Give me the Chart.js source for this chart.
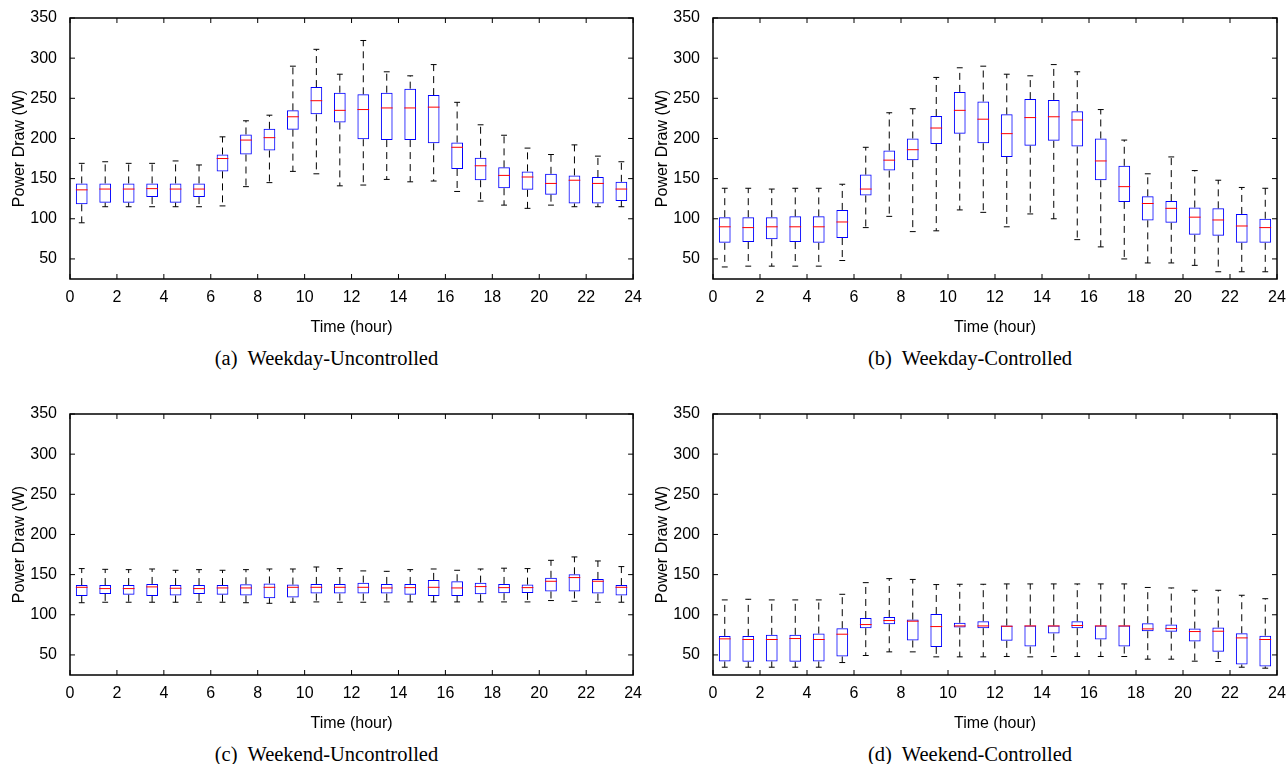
<!DOCTYPE html>
<html>
<head>
<meta charset="utf-8">
<script src="https://cdn.jsdelivr.net/npm/chart.js@4.4.1/dist/chart.umd.min.js"></script>
<style>
  body { margin: 0; background: #fff; width: 1287px; height: 764px; position: relative; overflow: hidden; }
  canvas { position: absolute; }
  .caption {
    position: absolute;
    font-family: "Liberation Serif", "Times New Roman", serif;
    font-size: 20.5px;
    line-height: 22px;
    text-align: center;
    white-space: pre;
    color: #000;
  }
</style>
</head>
<body>
<canvas id="wdUnc" width="643" height="340" style="left:0;top:0"></canvas>
<canvas id="wdCtl" width="644" height="340" style="left:643px;top:0"></canvas>
<canvas id="weUnc" width="643" height="340" style="left:0;top:396px"></canvas>
<canvas id="weCtl" width="644" height="340" style="left:643px;top:396px"></canvas>
<div class="caption" style="left:0;top:347px;width:653px">(a)  Weekday-Uncontrolled</div>
<div class="caption" style="left:653px;top:347px;width:634px">(b)  Weekday-Controlled</div>
<div class="caption" style="left:0;top:743px;width:653px">(c)  Weekend-Uncontrolled</div>
<div class="caption" style="left:653px;top:743px;width:634px">(d)  Weekend-Controlled</div>
<script>
const hours = [0.5, 1.5, 2.5, 3.5, 4.5, 5.5, 6.5, 7.5, 8.5, 9.5, 10.5, 11.5,
  12.5, 13.5, 14.5, 15.5, 16.5, 17.5, 18.5, 19.5, 20.5, 21.5, 22.5, 23.5];
const xTicks = [0, 2, 4, 6, 8, 10, 12, 14, 16, 18, 20, 22, 24];
const yTicks = [50, 100, 150, 200, 250, 300, 350];

// (a) weekday, uncontrolled
const wdUncHi = [169, 171, 169, 169, 172, 167, 202, 222, 229, 290, 311, 280, 322, 283, 278, 292, 245, 217, 204, 188, 180, 192, 178, 171];
const wdUncQ3 = [144, 144, 144, 144, 144, 144, 180, 205, 212, 235, 264, 257, 255, 257, 262, 254, 195, 176, 164, 159, 156, 154, 152, 146];
const wdUncMed = [136, 137, 137, 137.5, 137, 137, 175, 198, 201, 227, 247, 235, 236, 238, 238, 239, 189, 166, 154, 152, 144, 148, 144, 137];
const wdUncQ1 = [118, 120, 120, 127, 120, 127, 159, 180, 185, 211, 230, 220, 199, 198, 198, 194, 162, 148, 138, 136, 130, 119, 119, 122];
const wdUncLo = [95, 115, 115, 115, 115, 115, 116, 140, 145, 159, 156, 141, 142, 149, 146, 147, 134, 122, 117, 113, 117, 115, 115, 115];

// (b) weekday, controlled
const wdCtlHi = [138, 138, 137, 138, 138, 143, 189, 232, 237, 276, 288, 290, 280, 278, 292, 283, 236, 198, 156, 177, 160, 148, 139, 138];
const wdCtlQ3 = [102, 102, 102, 103, 103, 111, 155, 185, 200, 228, 258, 246, 230, 249, 248, 234, 200, 166, 128, 122, 114, 113, 106, 100];
const wdCtlMed = [90, 89, 90, 90, 90, 96, 137, 173, 186, 213, 235, 224, 206, 226, 227, 223, 172, 140, 119, 113, 102, 98.5, 91, 89];
const wdCtlQ1 = [70, 71, 74.5, 71, 70, 76, 129, 160, 173, 193, 206, 194, 177, 191, 197, 190, 148, 121, 98, 95, 80, 79, 70, 70];
const wdCtlLo = [40, 41, 41, 41, 41, 48, 89, 103, 84, 85, 111, 108, 90, 106, 100, 74, 65, 50, 45, 45, 42, 34, 34, 34];

// (c) weekend, uncontrolled
const weUncHi = [157.5, 156.6, 156.2, 157, 155.4, 156.2, 155.4, 156.2, 157, 157, 159.5, 157.5, 154.6, 154.1, 156.2, 157, 155.4, 157, 158, 157.5, 167.8, 172, 167, 160];
const weUncQ3 = [137, 137, 137, 138.4, 137, 137, 137, 138, 139, 137.6, 138.4, 138.4, 140, 138.4, 138.4, 143.4, 141.7, 140, 138.4, 137.6, 146, 150.4, 144.6, 137];
const weUncMed = [134.2, 132.6, 132.6, 134.7, 133, 132.6, 133.4, 133.4, 134.2, 134.2, 134.2, 134.2, 134.2, 133.4, 133.8, 134.2, 133.4, 135.1, 133.8, 133.8, 141.7, 146.3, 141.7, 134.2];
const weUncQ1 = [123.5, 126, 125, 123.5, 124, 126, 125, 124, 120.6, 121.4, 126.4, 126.4, 126.4, 126.4, 125, 123.5, 123.5, 125.5, 126.8, 127.2, 129, 129, 126.4, 124];
const weUncLo = [115, 115.6, 115.6, 115.6, 115.6, 115.6, 115.6, 115, 114.3, 115.6, 116, 115.6, 115.6, 116, 116, 116, 116, 116, 116, 116, 117.7, 116.8, 115.6, 115.6];

// (d) weekend, controlled
const weCtlHi = [118.5, 119.3, 118.5, 118.5, 118.5, 125.5, 140, 145, 144, 137.6, 138, 138, 138.4, 138.4, 138.4, 138.4, 138.4, 138.4, 134, 133.4, 130.5, 130.5, 124.3, 120];
const weCtlQ3 = [73.7, 73.7, 75, 75, 76.6, 83.3, 96, 97.3, 94, 101, 90, 92, 86.6, 86.6, 86.6, 92, 86.6, 86.6, 89.5, 87.8, 82.8, 84.1, 77, 74];
const weCtlMed = [70, 69.2, 69.2, 70.4, 69.2, 75.8, 87.8, 92.8, 92, 85.3, 86.1, 86.1, 85.7, 86.1, 86.1, 86.6, 86.1, 86.1, 82.4, 82.8, 79.1, 79.5, 71.2, 69.2];
const weCtlQ1 = [41.8, 41.4, 41.8, 41.4, 41.8, 48, 83.3, 88.2, 68, 60, 84, 83.3, 67.5, 60.4, 76.6, 83.3, 69.2, 60.4, 79.5, 79, 66.7, 53.8, 38, 35.6];
const weCtlLo = [34.7, 34.7, 34.7, 34.7, 34.7, 40.5, 49.3, 53.8, 53.8, 47.6, 47.6, 47.6, 48, 47.6, 48, 48, 48, 48, 44.7, 44.7, 42.2, 41.8, 34.7, 33.5];

Chart.defaults.font.family = '"Liberation Sans", Arial, Helvetica, sans-serif';
Chart.defaults.color = "#000";

function strokeLine(ctx, x1, y1, x2, y2) {
  ctx.beginPath();
  ctx.moveTo(x1, y1);
  ctx.lineTo(x2, y2);
  ctx.stroke();
}

// whiskers, caps and medians on top of the floating-bar boxes
const whiskers = {
  id: "whiskers",
  afterDatasetsDraw(chart, args, opts) {
    const { ctx, scales: { x, y } } = chart;
    const bars = chart.getDatasetMeta(0).data;
    ctx.save();
    ctx.lineWidth = 1;
    bars.forEach((bar, i) => {
      const cx = x.getPixelForValue(hours[i]);
      const half = bar.width / 2;
      const yHi = y.getPixelForValue(opts.hi[i]);
      const yLo = y.getPixelForValue(opts.lo[i]);
      ctx.strokeStyle = "#000";
      ctx.setLineDash([7, 5]);
      strokeLine(ctx, cx, y.getPixelForValue(opts.q3[i]), cx, yHi);
      strokeLine(ctx, cx, y.getPixelForValue(opts.q1[i]), cx, yLo);
      ctx.setLineDash([]);
      strokeLine(ctx, cx - half / 2, yHi, cx + half / 2, yHi);
      strokeLine(ctx, cx - half / 2, yLo, cx + half / 2, yLo);
      const yMed = y.getPixelForValue(opts.med[i]);
      ctx.strokeStyle = "#ff0000";
      strokeLine(ctx, cx - half, yMed, cx + half, yMed);
    });
    ctx.restore();
  },
};

// matlab style frame with inward ticks on all four sides
const frame = {
  id: "frame",
  afterDraw(chart) {
    const { ctx, chartArea: a, scales: { x, y } } = chart;
    ctx.save();
    ctx.strokeStyle = "#000";
    ctx.lineWidth = 1;
    x.ticks.forEach((t) => {
      const px = x.getPixelForValue(t.value);
      strokeLine(ctx, px, a.bottom, px, a.bottom - 5);
      strokeLine(ctx, px, a.top, px, a.top + 5);
    });
    y.ticks.forEach((t) => {
      const py = y.getPixelForValue(t.value);
      strokeLine(ctx, a.left, py, a.left + 5, py);
      strokeLine(ctx, a.right, py, a.right - 5, py);
    });
    ctx.lineWidth = 1.5;
    ctx.strokeRect(a.left, a.top, a.right - a.left, a.bottom - a.top);
    ctx.restore();
  },
};

function makePanel(id, lo, q1, med, q3, hi, padRight) {
  return new Chart(document.getElementById(id), {
    type: "bar",
    data: {
      datasets: [{
        data: hours.map((h, i) => ({ x: h, y: [q1[i], q3[i]] })),
        backgroundColor: "rgba(0,0,0,0)",
        borderColor: "#0000ff",
        borderWidth: 1,
        borderSkipped: false,
        inflateAmount: 0,
        barPercentage: 0.5,
        categoryPercentage: 1,
      }],
    },
    options: {
      responsive: false,
      animation: false,
      devicePixelRatio: 1,
      layout: { padding: { left: 0, top: 18, right: padRight, bottom: 0 } },
      plugins: {
        legend: { display: false },
        tooltip: { enabled: false },
        whiskers: { lo, q1, med, q3, hi },
      },
      scales: {
        x: {
          type: "linear",
          min: 0,
          max: 24,
          offset: false,
          grid: { display: false },
          border: { display: false },
          afterBuildTicks: (scale) => { scale.ticks = xTicks.map((v) => ({ value: v })); },
          afterFit: (scale) => { scale.height = 61; },
          ticks: { font: { size: 16 }, padding: 1, maxRotation: 0, autoSkip: false },
          title: { display: true, text: "Time (hour)", font: { size: 16 }, padding: { top: 0, bottom: 3 } },
        },
        y: {
          min: 25,
          max: 350,
          grid: { display: false },
          border: { display: false },
          afterBuildTicks: (scale) => { scale.ticks = yTicks.map((v) => ({ value: v })); },
          afterFit: (scale) => { scale.width = 70; },
          ticks: { font: { size: 16 }, padding: 5 },
          title: { display: true, text: "Power Draw (W)", font: { size: 16 }, padding: { top: 10, bottom: 0 } },
        },
      },
    },
    plugins: [whiskers, frame],
  });
}

makePanel("wdUnc", wdUncLo, wdUncQ1, wdUncMed, wdUncQ3, wdUncHi, 9);
makePanel("wdCtl", wdCtlLo, wdCtlQ1, wdCtlMed, wdCtlQ3, wdCtlHi, 10);
makePanel("weUnc", weUncLo, weUncQ1, weUncMed, weUncQ3, weUncHi, 9);
makePanel("weCtl", weCtlLo, weCtlQ1, weCtlMed, weCtlQ3, weCtlHi, 10);
</script>
</body>
</html>
